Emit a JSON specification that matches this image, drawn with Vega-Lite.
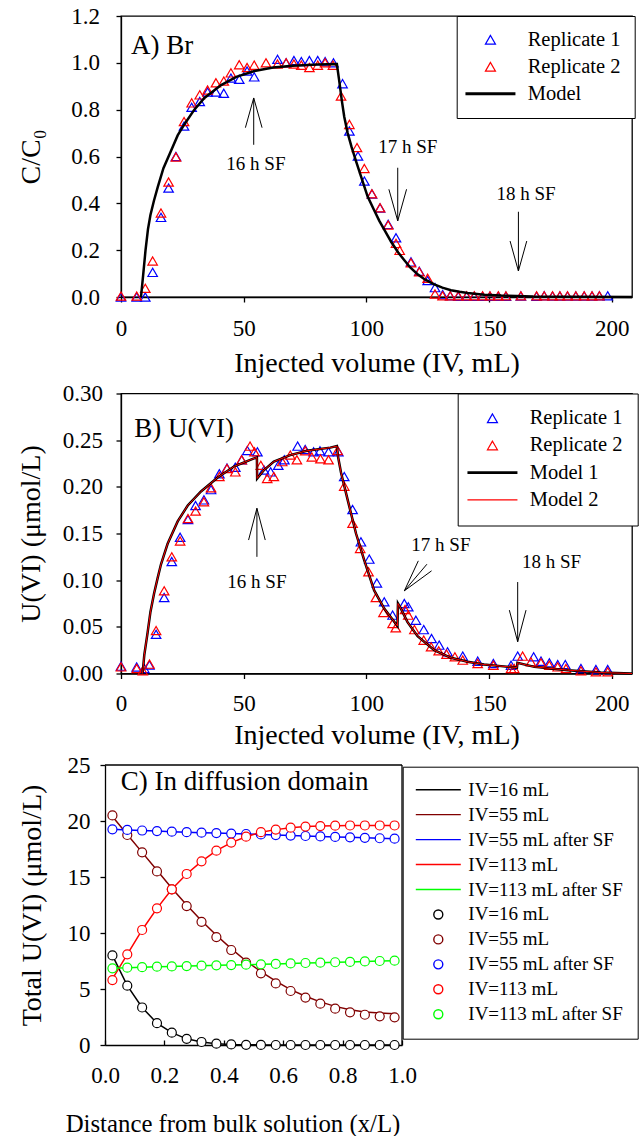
{
"$schema": "https://vega.github.io/schema/vega-lite/v6.json",
"padding": {"left": 16, "top": 4, "right": 0, "bottom": 0},
"background": "white",
"config": {
  "font": "Liberation Serif",
  "view": {"stroke": "black", "strokeWidth": 1.3},
  "axis": {"labelFont": "Liberation Serif", "titleFont": "Liberation Serif", "labelFontSize": 23, "titleFontSize": 28, "titleFontWeight": "normal", "labelColor": "black", "titleColor": "black", "domainColor": "black", "tickColor": "black", "domainWidth": 1.3, "tickWidth": 1.3, "tickSize": 5, "grid": false, "labelFlush": false, "labelOverlap": false},
  "legend": {"labelFont": "Liberation Serif", "labelColor": "black"},
  "text": {"font": "Liberation Serif", "color": "black"}
},
"datasets": {
  "aPts": [
    {"v":0,"y":0,"s":"Replicate 1"},{"v":6.4,"y":0,"s":"Replicate 1"},{"v":9.9,"y":0,"s":"Replicate 1"},{"v":12.9,"y":0.105,"s":"Replicate 1"},{"v":16.3,"y":0.34,"s":"Replicate 1"},{"v":19.4,"y":0.465,"s":"Replicate 1"},{"v":22.4,"y":0.6,"s":"Replicate 1"},{"v":25.7,"y":0.73,"s":"Replicate 1"},{"v":28.8,"y":0.81,"s":"Replicate 1"},{"v":32.1,"y":0.835,"s":"Replicate 1"},{"v":35.3,"y":0.875,"s":"Replicate 1"},{"v":38.7,"y":0.875,"s":"Replicate 1"},{"v":41.9,"y":0.87,"s":"Replicate 1"},{"v":44.8,"y":0.935,"s":"Replicate 1"},{"v":48.2,"y":0.93,"s":"Replicate 1"},{"v":51.4,"y":0.965,"s":"Replicate 1"},{"v":54.3,"y":0.94,"s":"Replicate 1"},{"v":63.8,"y":1.015,"s":"Replicate 1"},{"v":67.3,"y":1.0,"s":"Replicate 1"},{"v":70.5,"y":1.01,"s":"Replicate 1"},{"v":73.5,"y":1.005,"s":"Replicate 1"},{"v":76.8,"y":1.01,"s":"Replicate 1"},{"v":80.2,"y":1.01,"s":"Replicate 1"},{"v":83.2,"y":1.005,"s":"Replicate 1"},{"v":86.6,"y":1.0,"s":"Replicate 1"},{"v":90.3,"y":0.911,"s":"Replicate 1"},{"v":93.1,"y":0.709,"s":"Replicate 1"},{"v":96.6,"y":0.602,"s":"Replicate 1"},{"v":99.2,"y":0.495,"s":"Replicate 1"},{"v":102.3,"y":0.44,"s":"Replicate 1"},{"v":105.6,"y":0.38,"s":"Replicate 1"},{"v":108.9,"y":0.31,"s":"Replicate 1"},{"v":112.1,"y":0.253,"s":"Replicate 1"},{"v":118.2,"y":0.15,"s":"Replicate 1"},{"v":121.6,"y":0.11,"s":"Replicate 1"},{"v":125,"y":0.07,"s":"Replicate 1"},{"v":128,"y":0.04,"s":"Replicate 1"},{"v":131.1,"y":0.01,"s":"Replicate 1"},{"v":134.2,"y":0.005,"s":"Replicate 1"},{"v":137.5,"y":0.003,"s":"Replicate 1"},{"v":140.9,"y":0.003,"s":"Replicate 1"},{"v":144,"y":0.003,"s":"Replicate 1"},{"v":147.4,"y":0.003,"s":"Replicate 1"},{"v":150.4,"y":0.003,"s":"Replicate 1"},{"v":153.8,"y":0.003,"s":"Replicate 1"},{"v":156.9,"y":0.003,"s":"Replicate 1"},{"v":163,"y":0.004,"s":"Replicate 1"},{"v":169.4,"y":0.003,"s":"Replicate 1"},{"v":172.5,"y":0.005,"s":"Replicate 1"},{"v":175.9,"y":0.004,"s":"Replicate 1"},{"v":178.9,"y":0.004,"s":"Replicate 1"},{"v":182,"y":0.004,"s":"Replicate 1"},{"v":185.4,"y":0.004,"s":"Replicate 1"},{"v":188.8,"y":0.004,"s":"Replicate 1"},{"v":192,"y":0.004,"s":"Replicate 1"},{"v":195,"y":0.005,"s":"Replicate 1"},{"v":198.4,"y":0.005,"s":"Replicate 1"},
    {"v":0,"y":0.004,"s":"Replicate 2"},{"v":6.4,"y":0.004,"s":"Replicate 2"},{"v":9.9,"y":0.037,"s":"Replicate 2"},{"v":12.9,"y":0.154,"s":"Replicate 2"},{"v":16.3,"y":0.359,"s":"Replicate 2"},{"v":19.4,"y":0.491,"s":"Replicate 2"},{"v":22.4,"y":0.598,"s":"Replicate 2"},{"v":25.7,"y":0.749,"s":"Replicate 2"},{"v":28.8,"y":0.829,"s":"Replicate 2"},{"v":32.1,"y":0.863,"s":"Replicate 2"},{"v":35.3,"y":0.884,"s":"Replicate 2"},{"v":38.7,"y":0.915,"s":"Replicate 2"},{"v":41.9,"y":0.922,"s":"Replicate 2"},{"v":44.8,"y":0.957,"s":"Replicate 2"},{"v":48.2,"y":0.992,"s":"Replicate 2"},{"v":51.4,"y":0.98,"s":"Replicate 2"},{"v":54.3,"y":0.99,"s":"Replicate 2"},{"v":59.1,"y":1.0,"s":"Replicate 2"},{"v":63.8,"y":0.995,"s":"Replicate 2"},{"v":67.3,"y":1.0,"s":"Replicate 2"},{"v":70.5,"y":0.995,"s":"Replicate 2"},{"v":73.5,"y":0.99,"s":"Replicate 2"},{"v":76.8,"y":0.98,"s":"Replicate 2"},{"v":80.2,"y":0.99,"s":"Replicate 2"},{"v":83.2,"y":1.0,"s":"Replicate 2"},{"v":86.4,"y":0.99,"s":"Replicate 2"},{"v":89.7,"y":0.858,"s":"Replicate 2"},{"v":93.1,"y":0.737,"s":"Replicate 2"},{"v":96.2,"y":0.638,"s":"Replicate 2"},{"v":99.2,"y":0.549,"s":"Replicate 2"},{"v":102.3,"y":0.441,"s":"Replicate 2"},{"v":105.6,"y":0.381,"s":"Replicate 2"},{"v":108.9,"y":0.307,"s":"Replicate 2"},{"v":112.1,"y":0.229,"s":"Replicate 2"},{"v":113.6,"y":0.199,"s":"Replicate 2"},{"v":118.2,"y":0.146,"s":"Replicate 2"},{"v":121.6,"y":0.108,"s":"Replicate 2"},{"v":125,"y":0.08,"s":"Replicate 2"},{"v":128,"y":0.013,"s":"Replicate 2"},{"v":131.1,"y":0.005,"s":"Replicate 2"},{"v":134.2,"y":0.005,"s":"Replicate 2"},{"v":137.5,"y":0.005,"s":"Replicate 2"},{"v":140.9,"y":0.005,"s":"Replicate 2"},{"v":144,"y":0.005,"s":"Replicate 2"},{"v":147.4,"y":0.005,"s":"Replicate 2"},{"v":150.4,"y":0.005,"s":"Replicate 2"},{"v":153.8,"y":0.005,"s":"Replicate 2"},{"v":156.9,"y":0.005,"s":"Replicate 2"},{"v":163,"y":0.005,"s":"Replicate 2"},{"v":169.4,"y":0.005,"s":"Replicate 2"},{"v":172.5,"y":0.005,"s":"Replicate 2"},{"v":175.9,"y":0.005,"s":"Replicate 2"},{"v":178.9,"y":0.005,"s":"Replicate 2"},{"v":182,"y":0.005,"s":"Replicate 2"},{"v":185.4,"y":0.005,"s":"Replicate 2"},{"v":188.8,"y":0.005,"s":"Replicate 2"},{"v":192,"y":0.005,"s":"Replicate 2"},{"v":195,"y":0.005,"s":"Replicate 2"}
  ],
  "aModel": [
    {"v":8.15,"y":0},{"v":9,"y":0.09},{"v":10,"y":0.2},{"v":11,"y":0.29},{"v":12,"y":0.35},{"v":13.4,"y":0.41},{"v":15,"y":0.47},{"v":17.3,"y":0.55},{"v":20,"y":0.615},{"v":23.1,"y":0.69},{"v":26,"y":0.74},{"v":29.9,"y":0.8},{"v":34,"y":0.85},{"v":40.8,"y":0.905},{"v":47,"y":0.94},{"v":54.4,"y":0.965},{"v":62,"y":0.98},{"v":70,"y":0.988},{"v":80,"y":0.993},{"v":88,"y":0.995},{"v":89,"y":0.92},{"v":90,"y":0.84},{"v":91,"y":0.77},{"v":92.4,"y":0.7},{"v":94,"y":0.64},{"v":95.8,"y":0.58},{"v":98,"y":0.51},{"v":100.5,"y":0.43},{"v":103,"y":0.375},{"v":105.3,"y":0.325},{"v":108,"y":0.275},{"v":110.1,"y":0.236},{"v":113,"y":0.19},{"v":115.5,"y":0.157},{"v":118,"y":0.125},{"v":120.9,"y":0.097},{"v":124,"y":0.074},{"v":127.7,"y":0.054},{"v":131,"y":0.04},{"v":134.5,"y":0.029},{"v":138,"y":0.022},{"v":141.3,"y":0.017},{"v":148,"y":0.01},{"v":155,"y":0.006},{"v":168,"y":0.002},{"v":185,"y":0.001},{"v":208.3,"y":0}
  ],
  "aArrows": [
    {"x":54.1,"y":0.65,"x2":54.1,"y2":0.85},{"x":54.1,"y":0.85,"x2":50.7,"y2":0.723},{"x":54.1,"y":0.85,"x2":57.5,"y2":0.723},
    {"x":112.8,"y":0.552,"x2":112.8,"y2":0.325},{"x":112.8,"y":0.325,"x2":109.2,"y2":0.46},{"x":112.8,"y":0.325,"x2":116.4,"y2":0.46},
    {"x":162,"y":0.364,"x2":162,"y2":0.111},{"x":162,"y":0.111,"x2":158.6,"y2":0.239},{"x":162,"y":0.111,"x2":165.4,"y2":0.239}
  ],
  "aText": [{"x":55,"y":0.568,"t":"16 h SF"},{"x":116.9,"y":0.642,"t":"17 h SF"},{"x":165.1,"y":0.438,"t":"18 h SF"}],
  "bPts": [
    {"v":0,"y":0.0079,"s":"Replicate 1"},{"v":6.4,"y":0.007,"s":"Replicate 1"},{"v":9.5,"y":0.0054,"s":"Replicate 1"},{"v":11.6,"y":0.009,"s":"Replicate 1"},{"v":14.3,"y":0.042,"s":"Replicate 1"},{"v":17.6,"y":0.0814,"s":"Replicate 1"},{"v":20.7,"y":0.12,"s":"Replicate 1"},{"v":24.1,"y":0.146,"s":"Replicate 1"},{"v":27.3,"y":0.165,"s":"Replicate 1"},{"v":30.4,"y":0.18,"s":"Replicate 1"},{"v":33.8,"y":0.186,"s":"Replicate 1"},{"v":36.7,"y":0.197,"s":"Replicate 1"},{"v":40.1,"y":0.214,"s":"Replicate 1"},{"v":43.2,"y":0.22,"s":"Replicate 1"},{"v":46.6,"y":0.221,"s":"Replicate 1"},{"v":49.2,"y":0.229,"s":"Replicate 1"},{"v":51.5,"y":0.239,"s":"Replicate 1"},{"v":55.6,"y":0.2375,"s":"Replicate 1"},{"v":58.3,"y":0.218,"s":"Replicate 1"},{"v":61,"y":0.216,"s":"Replicate 1"},{"v":64.1,"y":0.223,"s":"Replicate 1"},{"v":66.6,"y":0.229,"s":"Replicate 1"},{"v":72,"y":0.2436,"s":"Replicate 1"},{"v":75.1,"y":0.24,"s":"Replicate 1"},{"v":78.5,"y":0.2375,"s":"Replicate 1"},{"v":81.1,"y":0.2386,"s":"Replicate 1"},{"v":84.6,"y":0.2375,"s":"Replicate 1"},{"v":88.6,"y":0.2375,"s":"Replicate 1"},{"v":91,"y":0.211,"s":"Replicate 1"},{"v":94.4,"y":0.1757,"s":"Replicate 1"},{"v":97.8,"y":0.141,"s":"Replicate 1"},{"v":101.2,"y":0.1225,"s":"Replicate 1"},{"v":104.3,"y":0.097,"s":"Replicate 1"},{"v":107.3,"y":0.0768,"s":"Replicate 1"},{"v":110.7,"y":0.0625,"s":"Replicate 1"},{"v":115.5,"y":0.075,"s":"Replicate 1"},{"v":117.1,"y":0.0714,"s":"Replicate 1"},{"v":120.2,"y":0.0571,"s":"Replicate 1"},{"v":123.4,"y":0.047,"s":"Replicate 1"},{"v":126.6,"y":0.0375,"s":"Replicate 1"},{"v":129.7,"y":0.0304,"s":"Replicate 1"},{"v":133.1,"y":0.0232,"s":"Replicate 1"},{"v":139.3,"y":0.0186,"s":"Replicate 1"},{"v":145.4,"y":0.0132,"s":"Replicate 1"},{"v":151.8,"y":0.0107,"s":"Replicate 1"},{"v":159,"y":0.0089,"s":"Replicate 1"},{"v":161.7,"y":0.0186,"s":"Replicate 1"},{"v":168.2,"y":0.0179,"s":"Replicate 1"},{"v":171.2,"y":0.0132,"s":"Replicate 1"},{"v":174.6,"y":0.0114,"s":"Replicate 1"},{"v":178,"y":0.0096,"s":"Replicate 1"},{"v":181.1,"y":0.0096,"s":"Replicate 1"},{"v":187.5,"y":0.0054,"s":"Replicate 1"},{"v":193.6,"y":0.0043,"s":"Replicate 1"},{"v":198.4,"y":0.0043,"s":"Replicate 1"},
    {"v":0,"y":0.0071,"s":"Replicate 2"},{"v":6.4,"y":0.0054,"s":"Replicate 2"},{"v":8.9,"y":0.003,"s":"Replicate 2"},{"v":11.6,"y":0.01,"s":"Replicate 2"},{"v":14.3,"y":0.046,"s":"Replicate 2"},{"v":17.6,"y":0.0886,"s":"Replicate 2"},{"v":20.7,"y":0.125,"s":"Replicate 2"},{"v":24.1,"y":0.142,"s":"Replicate 2"},{"v":27.3,"y":0.166,"s":"Replicate 2"},{"v":30.4,"y":0.174,"s":"Replicate 2"},{"v":33.8,"y":0.184,"s":"Replicate 2"},{"v":36.7,"y":0.199,"s":"Replicate 2"},{"v":40.1,"y":0.211,"s":"Replicate 2"},{"v":43.2,"y":0.2196,"s":"Replicate 2"},{"v":46.6,"y":0.216,"s":"Replicate 2"},{"v":49.2,"y":0.229,"s":"Replicate 2"},{"v":52.6,"y":0.2436,"s":"Replicate 2"},{"v":54.4,"y":0.2375,"s":"Replicate 2"},{"v":57,"y":0.223,"s":"Replicate 2"},{"v":59.6,"y":0.209,"s":"Replicate 2"},{"v":62.3,"y":0.211,"s":"Replicate 2"},{"v":65.7,"y":0.227,"s":"Replicate 2"},{"v":69,"y":0.234,"s":"Replicate 2"},{"v":71.7,"y":0.229,"s":"Replicate 2"},{"v":75.1,"y":0.2386,"s":"Replicate 2"},{"v":77.8,"y":0.232,"s":"Replicate 2"},{"v":81.3,"y":0.23,"s":"Replicate 2"},{"v":84.6,"y":0.229,"s":"Replicate 2"},{"v":88.3,"y":0.239,"s":"Replicate 2"},{"v":91,"y":0.2007,"s":"Replicate 2"},{"v":94.4,"y":0.161,"s":"Replicate 2"},{"v":97.5,"y":0.134,"s":"Replicate 2"},{"v":100.9,"y":0.109,"s":"Replicate 2"},{"v":103.9,"y":0.0814,"s":"Replicate 2"},{"v":107,"y":0.0654,"s":"Replicate 2"},{"v":110.7,"y":0.0536,"s":"Replicate 2"},{"v":112,"y":0.049,"s":"Replicate 2"},{"v":115.8,"y":0.0686,"s":"Replicate 2"},{"v":117.1,"y":0.0625,"s":"Replicate 2"},{"v":119.6,"y":0.047,"s":"Replicate 2"},{"v":123.4,"y":0.0357,"s":"Replicate 2"},{"v":126.4,"y":0.0286,"s":"Replicate 2"},{"v":129.5,"y":0.0243,"s":"Replicate 2"},{"v":132.7,"y":0.0207,"s":"Replicate 2"},{"v":136.1,"y":0.0179,"s":"Replicate 2"},{"v":139.3,"y":0.0143,"s":"Replicate 2"},{"v":145.4,"y":0.0107,"s":"Replicate 2"},{"v":151.8,"y":0.0089,"s":"Replicate 2"},{"v":159,"y":0.0054,"s":"Replicate 2"},{"v":160.3,"y":0.0054,"s":"Replicate 2"},{"v":163.7,"y":0.0186,"s":"Replicate 2"},{"v":167.1,"y":0.0125,"s":"Replicate 2"},{"v":171.2,"y":0.0114,"s":"Replicate 2"},{"v":174.6,"y":0.0089,"s":"Replicate 2"},{"v":178,"y":0.0071,"s":"Replicate 2"},{"v":181.4,"y":0.0054,"s":"Replicate 2"},{"v":187.5,"y":0.003,"s":"Replicate 2"},{"v":193.6,"y":0.0018,"s":"Replicate 2"},{"v":198.4,"y":0.0018,"s":"Replicate 2"}
  ],
  "bModel": [
    {"v":8.8,"Model 1":0,"Model 2":0},{"v":9.5,"Model 1":0.02,"Model 2":0.02},{"v":10.8,"Model 1":0.043,"Model 2":0.043},{"v":12,"Model 1":0.066,"Model 2":0.066},{"v":13.5,"Model 1":0.086,"Model 2":0.086},{"v":15,"Model 1":0.103,"Model 2":0.103},{"v":16.3,"Model 1":0.117,"Model 2":0.117},{"v":19,"Model 1":0.139,"Model 2":0.139},{"v":23.1,"Model 1":0.163,"Model 2":0.163},{"v":27.2,"Model 1":0.18,"Model 2":0.18},{"v":32.6,"Model 1":0.195,"Model 2":0.195},{"v":39.4,"Model 1":0.21,"Model 2":0.21},{"v":46.2,"Model 1":0.222,"Model 2":0.222},{"v":53.7,"Model 1":0.23,"Model 2":0.23},{"v":55.4,"Model 1":0.2314,"Model 2":0.2314},{"v":55.5,"Model 1":0.209,"Model 2":0.209},{"v":58.3,"Model 1":0.218,"Model 2":0.218},{"v":62.3,"Model 1":0.227,"Model 2":0.227},{"v":69,"Model 1":0.234,"Model 2":0.234},{"v":75.8,"Model 1":0.2386,"Model 2":0.2386},{"v":85.3,"Model 1":0.242,"Model 2":0.242},{"v":88,"Model 1":0.2436,"Model 2":0.2436},{"v":88.5,"Model 1":0.232,"Model 2":0.232},{"v":89.7,"Model 1":0.215,"Model 2":0.215},{"v":92.4,"Model 1":0.186,"Model 2":0.186},{"v":95.8,"Model 1":0.15,"Model 2":0.15},{"v":99.2,"Model 1":0.121,"Model 2":0.121},{"v":103.2,"Model 1":0.089,"Model 2":0.089},{"v":107.3,"Model 1":0.0696,"Model 2":0.0696},{"v":112.7,"Model 1":0.051,"Model 2":0.051},{"v":112.9,"Model 1":0.075,"Model 2":0.075},{"v":114,"Model 1":0.07,"Model 2":0.07},{"v":116.8,"Model 1":0.055,"Model 2":0.055},{"v":120.9,"Model 1":0.04,"Model 2":0.04},{"v":127.7,"Model 1":0.025,"Model 2":0.025},{"v":134.5,"Model 1":0.0168,"Model 2":0.0168},{"v":141.3,"Model 1":0.0125,"Model 2":0.0125},{"v":148,"Model 1":0.0096,"Model 2":0.0096},{"v":154.9,"Model 1":0.0079,"Model 2":0.0079},{"v":161.4,"Model 1":0.0064,"Model 2":0.0064},{"v":161.6,"Model 1":0.0114,"Model 2":0.0114},{"v":168.5,"Model 1":0.0071,"Model 2":0.0071},{"v":182.1,"Model 1":0.0036,"Model 2":0.0036},{"v":195.6,"Model 1":0.001,"Model 2":0.001},{"v":208.3,"Model 1":0,"Model 2":0}
  ],
  "bArrows": [
    {"x":55.4,"y":0.125,"x2":55.4,"y2":0.177},{"x":55.4,"y":0.177,"x2":52,"y2":0.143},{"x":55.4,"y":0.177,"x2":58.8,"y2":0.143},
    {"x":115.5,"y":0.0886,"x2":121.2,"y2":0.1207},{"x":115.5,"y":0.0886,"x2":124.7,"y2":0.1171},{"x":115.5,"y":0.0886,"x2":126.6,"y2":0.11},
    {"x":161.7,"y":0.098,"x2":161.7,"y2":0.034},{"x":161.7,"y":0.034,"x2":158.3,"y2":0.0679},{"x":161.7,"y":0.034,"x2":165.1,"y2":0.0679}
  ],
  "bText": [{"x":55.4,"y":0.098,"t":"16 h SF"},{"x":130.4,"y":0.138,"t":"17 h SF"},{"x":175.5,"y":0.12,"t":"18 h SF"}],
  "cLines": [
    {"x":0.025,"l1":8.0,"l2":20.4,"l3":19.26,"l4":5.9,"l5":6.85},
    {"x":0.075,"l1":5.3,"l2":18.8,"l3":19.2,"l4":8.1,"l5":6.9},
    {"x":0.125,"l1":3.35,"l2":17.2,"l3":19.15,"l4":10.27,"l5":6.95},
    {"x":0.175,"l1":1.95,"l2":15.6,"l3":19.1,"l4":12.2,"l5":6.99},
    {"x":0.225,"l1":1.1,"l2":14.0,"l3":19.05,"l4":13.9,"l5":7.02},
    {"x":0.275,"l1":0.55,"l2":12.5,"l3":19.0,"l4":15.27,"l5":7.05},
    {"x":0.325,"l1":0.27,"l2":11.1,"l3":18.96,"l4":16.4,"l5":7.08},
    {"x":0.375,"l1":0.12,"l2":9.8,"l3":18.92,"l4":17.35,"l5":7.11},
    {"x":0.425,"l1":0.05,"l2":8.6,"l3":18.88,"l4":18.07,"l5":7.14},
    {"x":0.475,"l1":0.02,"l2":7.5,"l3":18.84,"l4":18.6,"l5":7.17},
    {"x":0.525,"l1":0.01,"l2":6.55,"l3":18.8,"l4":19.0,"l5":7.2},
    {"x":0.575,"l1":0,"l2":5.7,"l3":18.74,"l4":19.23,"l5":7.24},
    {"x":0.625,"l1":0,"l2":4.95,"l3":18.7,"l4":19.4,"l5":7.28},
    {"x":0.675,"l1":0,"l2":4.35,"l3":18.66,"l4":19.5,"l5":7.32},
    {"x":0.725,"l1":0,"l2":3.85,"l3":18.62,"l4":19.55,"l5":7.35},
    {"x":0.775,"l1":0,"l2":3.45,"l3":18.58,"l4":19.58,"l5":7.39},
    {"x":0.825,"l1":0,"l2":3.15,"l3":18.54,"l4":19.6,"l5":7.42},
    {"x":0.875,"l1":0,"l2":2.95,"l3":18.5,"l4":19.6,"l5":7.46},
    {"x":0.925,"l1":0,"l2":2.85,"l3":18.46,"l4":19.6,"l5":7.5},
    {"x":0.975,"l1":0,"l2":2.8,"l3":18.42,"l4":19.6,"l5":7.53}
  ],
  "cPts": [
    {"x":0.025,"p1":8.0,"p2":20.5,"p3":19.26,"p4":5.8,"p5":6.85},
    {"x":0.075,"p1":5.3,"p2":18.75,"p3":19.2,"p4":8.1,"p5":6.9},
    {"x":0.125,"p1":3.35,"p2":17.2,"p3":19.15,"p4":10.27,"p5":6.95},
    {"x":0.175,"p1":1.95,"p2":15.5,"p3":19.1,"p4":12.2,"p5":6.99},
    {"x":0.225,"p1":1.1,"p2":13.9,"p3":19.05,"p4":13.9,"p5":7.02},
    {"x":0.275,"p1":0.55,"p2":12.4,"p3":19.0,"p4":15.27,"p5":7.05},
    {"x":0.325,"p1":0.27,"p2":11.0,"p3":18.96,"p4":16.4,"p5":7.08},
    {"x":0.375,"p1":0.12,"p2":9.64,"p3":18.92,"p4":17.35,"p5":7.11},
    {"x":0.425,"p1":0.05,"p2":8.48,"p3":18.88,"p4":18.07,"p5":7.14},
    {"x":0.475,"p1":0.02,"p2":7.35,"p3":18.84,"p4":18.6,"p5":7.17},
    {"x":0.525,"p1":0.01,"p2":6.4,"p3":18.8,"p4":19.0,"p5":7.2},
    {"x":0.575,"p1":0,"p2":5.5,"p3":18.74,"p4":19.23,"p5":7.24},
    {"x":0.625,"p1":0,"p2":4.82,"p3":18.7,"p4":19.4,"p5":7.28},
    {"x":0.675,"p1":0,"p2":4.23,"p3":18.66,"p4":19.5,"p5":7.32},
    {"x":0.725,"p1":0,"p2":3.69,"p3":18.62,"p4":19.55,"p5":7.35},
    {"x":0.775,"p1":0,"p2":3.24,"p3":18.58,"p4":19.58,"p5":7.39},
    {"x":0.825,"p1":0,"p2":2.92,"p3":18.54,"p4":19.6,"p5":7.42},
    {"x":0.875,"p1":0,"p2":2.7,"p3":18.5,"p4":19.6,"p5":7.46},
    {"x":0.925,"p1":0,"p2":2.56,"p3":18.46,"p4":19.6,"p5":7.5},
    {"x":0.975,"p1":0,"p2":2.47,"p3":18.42,"p4":19.6,"p5":7.53}
  ]
},
"resolve": {"scale": {"x": "independent", "y": "independent", "color": "independent", "shape": "independent", "stroke": "independent"}, "legend": {"color": "independent", "shape": "independent", "stroke": "independent"}},
"spacing": 3.5,
"vconcat": [
   {
    "width": 511, "height": 281,
    "layer": [
     {"data": {"name": "aPts"},
      "mark": {"type": "point", "filled": false, "size": 90, "strokeWidth": 1.2, "opacity": 1},
      "encoding": {
        "x": {"field": "v", "type": "quantitative", "scale": {"domain": [0, 208.3], "nice": false, "zero": false}, "axis": {"values": [0, 50, 100, 150, 200], "title": "Injected volume (IV, mL)", "labelPadding": 15, "titlePadding": 9}},
        "y": {"field": "y", "type": "quantitative", "scale": {"domain": [0, 1.2], "nice": false}, "axis": {"values": [0, 0.2, 0.4, 0.6, 0.8, 1.0, 1.2], "format": ".1f", "title": "C/C₀", "labelPadding": 16.5, "titlePadding": 25.5}},
        "color": {"field": "s", "type": "nominal", "scale": {"domain": ["Replicate 1", "Replicate 2", "Model"], "range": ["#0000ff", "#ff0000", "#000000"]},
          "legend": {"title": null, "orient": "none", "legendX": 335.7, "legendY": 0, "strokeColor": "black", "fillColor": "white", "padding": 13.5, "labelFontSize": 20.5, "labelFont": "Liberation Serif", "symbolSize": 100, "symbolOffset": 10, "labelOffset": 27, "rowPadding": 6, "symbolStrokeWidth": 1.2}},
        "shape": {"field": "s", "type": "nominal", "scale": {"domain": ["Replicate 1", "Replicate 2", "Model"], "range": ["triangle-up", "triangle-up", "M-5,-0.16H5M-5,0H5M-5,0.16H5"]},
          "legend": {"title": null, "orient": "none", "legendX": 335.7, "legendY": 0, "strokeColor": "black", "fillColor": "white", "padding": 13.5, "labelFontSize": 20.5, "labelFont": "Liberation Serif", "symbolSize": 100, "symbolOffset": 10, "labelOffset": 27, "rowPadding": 6, "symbolStrokeWidth": 1.2}}
      }},
     {"data": {"name": "aModel"},
      "mark": {"type": "line", "strokeWidth": 2.5, "color": "black"},
      "encoding": {
        "x": {"field": "v", "type": "quantitative"},
        "y": {"field": "y", "type": "quantitative"}
      }},
     {"data": {"name": "aArrows"},
      "mark": {"type": "rule", "color": "black", "strokeWidth": 1},
      "encoding": {"x": {"field": "x", "type": "quantitative"}, "y": {"field": "y", "type": "quantitative"}, "x2": {"field": "x2"}, "y2": {"field": "y2"}}},
     {"data": {"name": "aText"},
      "mark": {"type": "text", "fontSize": 19, "align": "center", "baseline": "middle"},
      "encoding": {"x": {"field": "x", "type": "quantitative"}, "y": {"field": "y", "type": "quantitative"}, "text": {"field": "t"}}},
     {"data": {"values": [{"x": 4.1, "y": 1.072, "t": "A) Br"}]},
      "mark": {"type": "text", "fontSize": 27, "align": "left", "baseline": "middle"},
      "encoding": {"x": {"field": "x", "type": "quantitative"}, "y": {"field": "y", "type": "quantitative"}, "text": {"field": "t"}}}
    ]
   },
   {
    "width": 511, "height": 280,
    "layer": [
     {"data": {"name": "bPts"},
      "mark": {"type": "point", "filled": false, "size": 90, "strokeWidth": 1.2, "opacity": 1},
      "encoding": {
        "x": {"field": "v", "type": "quantitative", "scale": {"domain": [0, 208.3], "nice": false, "zero": false}, "axis": {"values": [0, 50, 100, 150, 200], "title": "Injected volume (IV, mL)", "labelPadding": 14, "titlePadding": 6}},
        "y": {"field": "y", "type": "quantitative", "scale": {"domain": [0, 0.3], "nice": false}, "axis": {"values": [0, 0.05, 0.1, 0.15, 0.2, 0.25, 0.3], "format": ".2f", "title": "U(VI) (μmol/L)", "labelPadding": 13.5, "titlePadding": 17.25}},
        "color": {"field": "s", "type": "nominal", "scale": {"domain": ["Replicate 1", "Replicate 2", "Model 1", "Model 2"], "range": ["#0000ff", "#ff0000", "#000000", "#ff0000"]},
          "legend": {"title": null, "orient": "none", "legendX": 336.7, "legendY": 0, "strokeColor": "black", "fillColor": "white", "padding": 14.5, "labelFontSize": 20.5, "labelFont": "Liberation Serif", "symbolSize": 100, "symbolOffset": 10, "labelOffset": 27, "rowPadding": 6.2, "symbolStrokeWidth": 1.2}},
        "shape": {"field": "s", "type": "nominal", "scale": {"domain": ["Replicate 1", "Replicate 2", "Model 1", "Model 2"], "range": ["triangle-up", "triangle-up", "M-5,-0.16H5M-5,0H5M-5,0.16H5", "M-5,0H5"]},
          "legend": {"title": null, "orient": "none", "legendX": 336.7, "legendY": 0, "strokeColor": "black", "fillColor": "white", "padding": 14.5, "labelFontSize": 20.5, "labelFont": "Liberation Serif", "symbolSize": 100, "symbolOffset": 10, "labelOffset": 27, "rowPadding": 6.2, "symbolStrokeWidth": 1.2}}
      }},
     {"data": {"name": "bModel"},
      "transform": [{"fold": ["Model 1"], "as": ["s", "yy"]}],
      "mark": {"type": "line", "strokeWidth": 2.5, "color": "black"},
      "encoding": {"x": {"field": "v", "type": "quantitative"}, "y": {"field": "yy", "type": "quantitative"}}},
     {"data": {"name": "bModel"},
      "transform": [{"fold": ["Model 2"], "as": ["s", "yy"]}],
      "mark": {"type": "line", "strokeWidth": 1, "color": "#ff0000"},
      "encoding": {"x": {"field": "v", "type": "quantitative"}, "y": {"field": "yy", "type": "quantitative"}}},
     {"data": {"name": "bArrows"},
      "mark": {"type": "rule", "color": "black", "strokeWidth": 1},
      "encoding": {"x": {"field": "x", "type": "quantitative"}, "y": {"field": "y", "type": "quantitative"}, "x2": {"field": "x2"}, "y2": {"field": "y2"}}},
     {"data": {"name": "bText"},
      "mark": {"type": "text", "fontSize": 19, "align": "center", "baseline": "middle"},
      "encoding": {"x": {"field": "x", "type": "quantitative"}, "y": {"field": "y", "type": "quantitative"}, "text": {"field": "t"}}},
     {"data": {"values": [{"x": 5.4, "y": 0.2625, "t": "B) U(VI)"}]},
      "mark": {"type": "text", "fontSize": 27, "align": "left", "baseline": "middle"},
      "encoding": {"x": {"field": "x", "type": "quantitative"}, "y": {"field": "y", "type": "quantitative"}, "text": {"field": "t"}}}
    ]
   },
   {
    "width": 281, "height": 280,
    "view": {"stroke": null},
    "layer": [
     {"data": {"name": "cLines"},
      "transform": [{"fold": ["l1", "l2", "l3", "l4", "l5"], "as": ["s", "y"]}],
      "mark": {"type": "line", "strokeWidth": 1.5},
      "encoding": {
        "x": {"field": "x", "type": "quantitative", "scale": {"domain": [0, 1], "nice": false, "range": [-16, 281]}, "axis": {"values": [0, 0.2, 0.4, 0.6, 0.8, 1.0], "format": ".1f", "title": "Distance from bulk solution (x/L)", "titleFontSize": 24.8, "titleX": 111.5, "tickSize": -5, "labelPadding": 24, "titlePadding": 24}},
        "y": {"field": "y", "type": "quantitative", "scale": {"domain": [0, 25], "nice": false}, "axis": {"values": [0, 5, 10, 15, 20, 25], "title": "Total U(VI) (μmol/L)", "offset": 16, "labelPadding": 10, "titlePadding": 20.6}},
        "stroke": {"field": "s", "type": "nominal", "scale": {"domain": ["l1", "l2", "l3", "l4", "l5", "p1", "p2", "p3", "p4", "p5"], "range": ["#000000", "#800000", "#0000ff", "#ff0000", "#00ff00", "#000000", "#800000", "#0000ff", "#ff0000", "#00ff00"]},
          "legend": {"title": null, "orient": "none", "legendX": 281.7, "legendY": 1.7, "strokeColor": "black", "fillColor": "white", "padding": 13.5, "labelFontSize": 19, "labelFont": "Liberation Serif", "symbolSize": 81, "symbolOffset": 12.6, "labelOffset": 20.5, "rowPadding": 4.95, "symbolStrokeWidth": 1.4, "labelExpr": "['IV=16 mL','IV=55 mL','IV=55 mL after SF','IV=113 mL','IV=113 mL after SF'][toNumber(substring(datum.label,1,2))-1]"}}
      }},
     {"data": {"name": "cPts"},
      "transform": [{"fold": ["p1", "p2", "p3", "p4", "p5"], "as": ["s", "y"]}],
      "mark": {"type": "point", "filled": true, "fill": "white", "size": 81, "strokeWidth": 1.2, "opacity": 1},
      "encoding": {
        "x": {"field": "x", "type": "quantitative"},
        "y": {"field": "y", "type": "quantitative"},
        "stroke": {"field": "s", "type": "nominal",
          "legend": {"title": null, "orient": "none", "legendX": 281.7, "legendY": 1.7, "strokeColor": "black", "fillColor": "white", "padding": 13.5, "labelFontSize": 19, "labelFont": "Liberation Serif", "symbolSize": 81, "symbolOffset": 12.6, "labelOffset": 20.5, "rowPadding": 4.95, "symbolStrokeWidth": 1.4, "labelExpr": "['IV=16 mL','IV=55 mL','IV=55 mL after SF','IV=113 mL','IV=113 mL after SF'][toNumber(substring(datum.label,1,2))-1]"}},
        "shape": {"field": "s", "type": "nominal", "scale": {"domain": ["l1", "l2", "l3", "l4", "l5", "p1", "p2", "p3", "p4", "p5"], "range": ["M-5,0H5", "M-5,0H5", "M-5,0H5", "M-5,0H5", "M-5,0H5", "circle", "circle", "circle", "circle", "circle"]},
          "legend": {"title": null, "orient": "none", "legendX": 281.7, "legendY": 1.7, "strokeColor": "black", "fillColor": "white", "padding": 13.5, "labelFontSize": 19, "labelFont": "Liberation Serif", "symbolSize": 81, "symbolOffset": 12.6, "labelOffset": 20.5, "rowPadding": 4.95, "symbolStrokeWidth": 1.4, "labelExpr": "['IV=16 mL','IV=55 mL','IV=55 mL after SF','IV=113 mL','IV=113 mL after SF'][toNumber(substring(datum.label,1,2))-1]"}}
      }},
     {"data": {"values": [{}]},
      "mark": {"type": "rule", "color": "black", "strokeWidth": 1.3},
      "encoding": {"x": {"datum": 0, "type": "quantitative"}, "x2": {"datum": 1}, "y": {"datum": 25, "type": "quantitative"}}},
     {"data": {"values": [{}]},
      "mark": {"type": "rule", "color": "black", "strokeWidth": 1.3},
      "encoding": {"x": {"datum": 1, "type": "quantitative"}, "y": {"datum": 0, "type": "quantitative"}, "y2": {"datum": 25}}},
     {"data": {"values": [{"x": 0.053, "y": 23.5, "t": "C) In diffusion domain"}]},
      "mark": {"type": "text", "fontSize": 27, "align": "left", "baseline": "middle"},
      "encoding": {"x": {"field": "x", "type": "quantitative"}, "y": {"field": "y", "type": "quantitative"}, "text": {"field": "t"}}}
    ]
   }
]
}
